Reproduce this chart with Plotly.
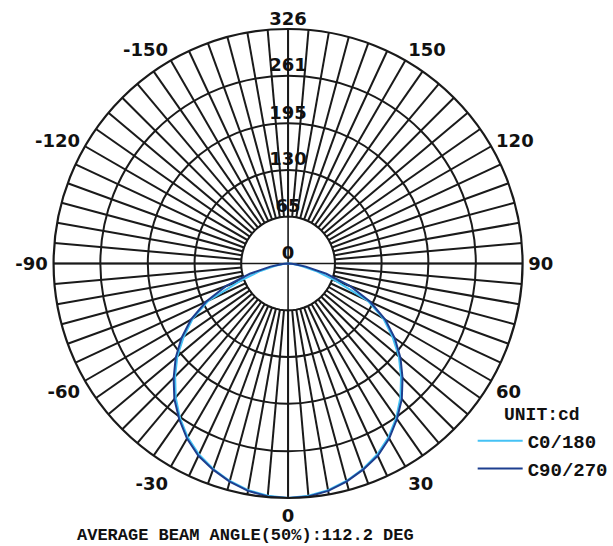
import plotly.graph_objects as go

# Polar angle (deg, 0 = straight down) and luminous intensity (cd)
angles = [-90, -85, -80, -75, -70, -65, -60, -55, -50, -45, -40, -35, -30, -25, -20, -15, -10, -5,
          0, 5, 10, 15, 20, 25, 30, 35, 40, 45, 50, 55, 60, 65, 70, 75, 80, 85, 90]
c0_180 = [0, 5, 18, 40, 70, 122, 153, 177, 201, 222, 243, 262, 279, 293, 304, 313, 320, 324,
          326, 324, 320, 313, 304, 293, 279, 262, 243, 222, 201, 177, 153, 122, 70, 40, 18, 5, 0]
c90_270 = [0, 8, 25, 55, 92, 126, 156, 181, 204, 225, 246, 264, 281, 295, 305, 314, 321, 325,
           326, 325, 321, 314, 305, 295, 281, 264, 246, 225, 204, 181, 156, 126, 92, 55, 25, 8, 0]

radial_ticks = [0, 65, 130, 195, 261, 326]
label_angles = {0: "0", 30: "30", 60: "60", 90: "90", 120: "120", 150: "150",
                210: "-150", 240: "-120", 270: "-90", 300: "-60", 330: "-30"}
spoke_angles = list(range(0, 360, 5))
hole_r = radial_ticks[1]
r_max = radial_ticks[-1]

grid_col = "#1a1a1a"
sans = "DejaVu Sans"
mono = "Liberation Mono"

fig = go.Figure()

# blank inner disk that hides the spokes near the centre
disk_theta = list(range(0, 361, 5))
fig.add_trace(go.Scatterpolar(
    theta=disk_theta, r=[hole_r] * len(disk_theta), mode="lines",
    fill="toself", fillcolor="white", line=dict(color=grid_col, width=1.8),
    showlegend=False, hoverinfo="skip"))

# the two full diameters through the centre
fig.add_trace(go.Scatterpolar(
    theta=[0, 0, 180], r=[r_max, 0, r_max], mode="lines",
    line=dict(color=grid_col, width=1.6), showlegend=False, hoverinfo="skip"))
fig.add_trace(go.Scatterpolar(
    theta=[90, 0, 270], r=[r_max, 0, r_max], mode="lines",
    line=dict(color=grid_col, width=1.6), showlegend=False, hoverinfo="skip"))

fig.add_trace(go.Scatterpolar(
    theta=angles, r=c0_180, mode="lines", name="C0/180",
    line=dict(color="#45c2f5", width=2)))
fig.add_trace(go.Scatterpolar(
    theta=angles, r=c90_270, mode="lines", name="C90/270",
    line=dict(color="#1d3f8f", width=2)))

# intensity scale labels along the upper vertical spoke
fig.add_trace(go.Scatterpolar(
    theta=[180] * len(radial_ticks), r=radial_ticks, mode="text",
    text=[str(v) for v in radial_ticks], textposition="top center",
    textfont=dict(family=sans, size=18, color="#111111", weight="bold"),
    cliponaxis=False, showlegend=False, hoverinfo="skip"))

fig.update_layout(
    width=613, height=546,
    margin=dict(l=0, r=0, t=0, b=0),
    paper_bgcolor="white",
    polar=dict(
        domain=dict(x=[53 / 613, 526 / 613], y=[48 / 546, 517 / 546]),
        bgcolor="white",
        radialaxis=dict(range=[0, r_max], tickvals=radial_ticks[1:],
                        showticklabels=False, ticks="", showline=False,
                        gridcolor=grid_col, gridwidth=2),
        angularaxis=dict(rotation=270, direction="counterclockwise",
                         tickmode="array", tickvals=spoke_angles,
                         ticktext=[label_angles.get(a, "") for a in spoke_angles],
                         ticks="outside", ticklen=1, tickcolor="rgba(0,0,0,0)",
                         tickfont=dict(family=sans, size=18, color="#111111", weight="bold"),
                         showgrid=True, gridcolor=grid_col, gridwidth=1.5,
                         showline=True, linecolor=grid_col, linewidth=2.2),
    ),
    legend=dict(x=475 / 613, y=124 / 546, xanchor="left", yanchor="top",
                bgcolor="rgba(0,0,0,0)", tracegroupgap=0, itemwidth=45,
                font=dict(family=mono, size=19, color="#111111", weight="bold")),
    annotations=[
        dict(text="UNIT:cd", xref="paper", yref="paper", x=504 / 613, y=(546 - 415) / 546,
             xanchor="left", yanchor="middle", showarrow=False,
             font=dict(family=mono, size=18, color="#111111", weight="bold")),
        dict(text="AVERAGE BEAM ANGLE(50%):112.2 DEG", xref="paper", yref="paper",
             x=247 / 613, y=(546 - 535) / 546, xanchor="center", yanchor="middle",
             showarrow=False, borderpad=0,
             font=dict(family=mono, size=17, color="#111111", weight="bold")),
    ],
)

fig.write_html("out.html")
